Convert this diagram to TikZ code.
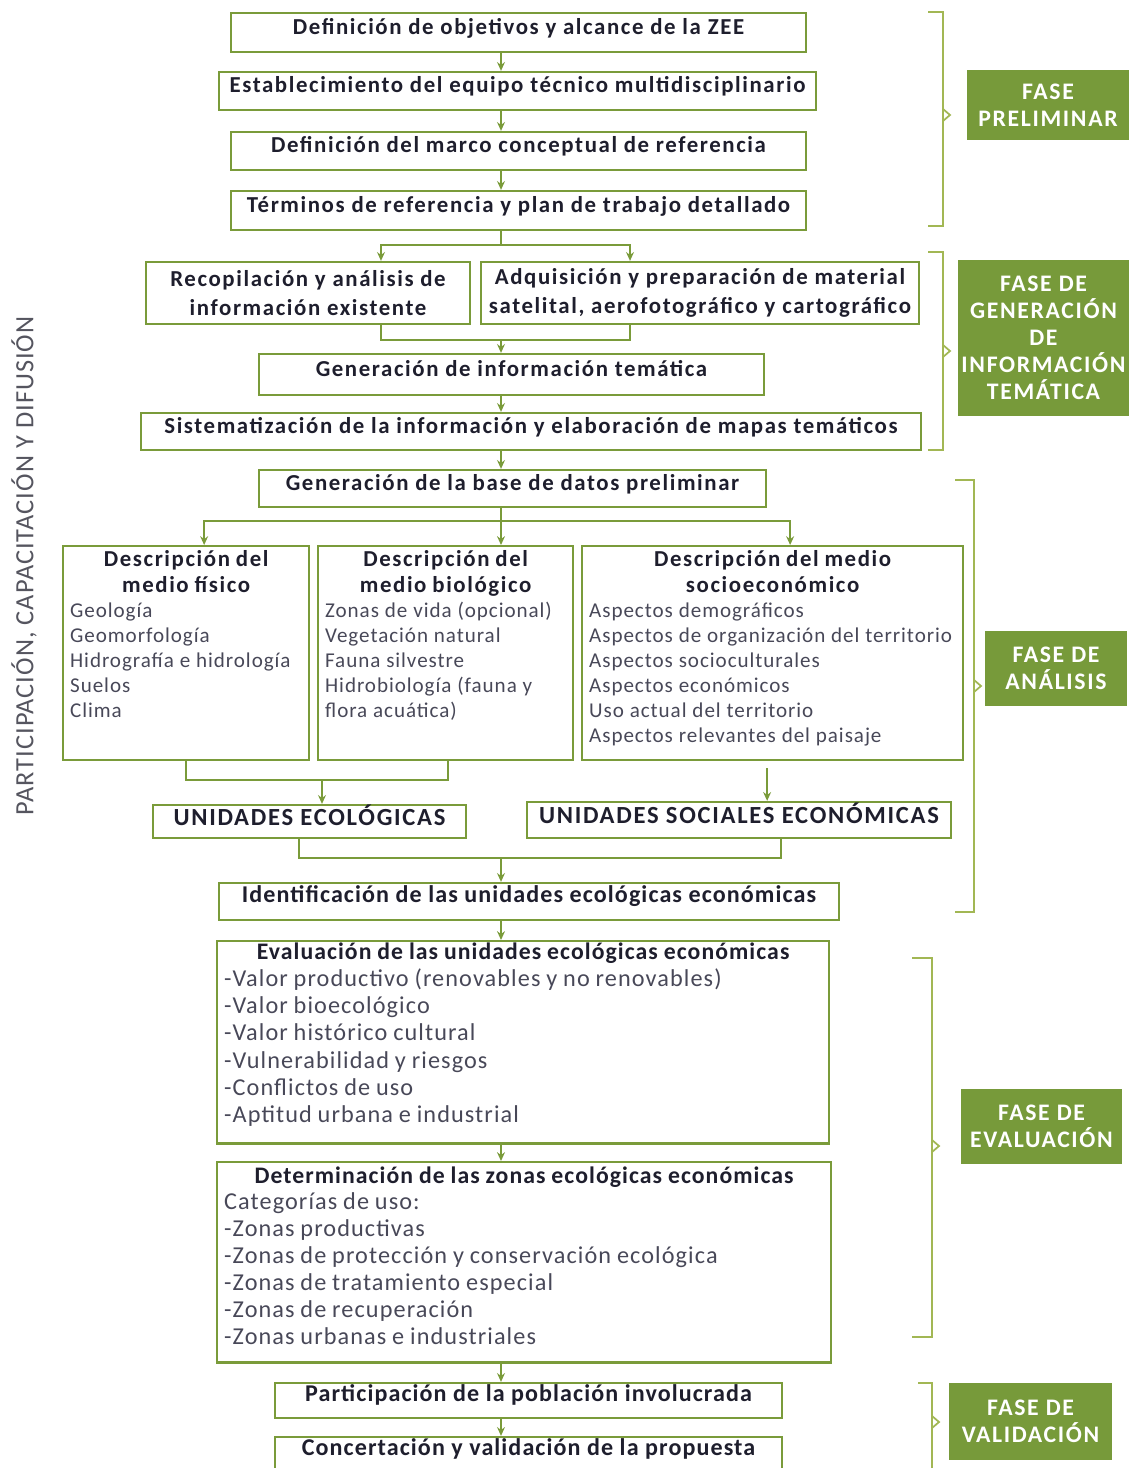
\documentclass[tikz,border=0pt]{standalone}
\usepackage{fontspec}
\setmainfont{Carlito}
\newfontfamily\widefont[LetterSpace=7.0]{Carlito}
\newfontfamily\midfont[LetterSpace=4.5]{Carlito}
\newfontfamily\sidefont[LetterSpace=4.0]{Carlito}
\usetikzlibrary{arrows.meta}

\definecolor{zeegreen}{RGB}{122,155,58}
\definecolor{bracegreen}{RGB}{162,183,84}
\definecolor{phasegreen}{RGB}{119,154,58}
\definecolor{ink}{RGB}{30,30,45}
\definecolor{listgray}{RGB}{72,72,88}
\definecolor{sidegray}{RGB}{85,85,95}

\begin{document}
\begin{tikzpicture}[x=0.02cm,y=-0.02cm,>={Stealth[length=5pt,width=4.5pt]},
    frame/.style={draw=zeegreen,line width=1.3pt,text=ink,inner sep=0pt},
    stepbox/.style={frame,font=\widefont\bfseries\fontsize{13}{15}\selectfont,
      text height=11pt,text depth=9pt},
    pairbox/.style={frame,align=center,font=\widefont\bfseries\fontsize{13}{16.4}\selectfont},
    unitbox/.style={frame,font=\widefont\bfseries\fontsize{14}{16}\selectfont,text height=10pt,text depth=6pt},
    plainbox/.style={frame,font=\midfont\bfseries\fontsize{13.7}{15}\selectfont,text height=10pt,text depth=9pt},
    listbox/.style={frame,anchor=north west,align=left,inner xsep=4pt,inner ysep=2pt,text=listgray},
    phase/.style={fill=phasegreen,text=white,align=center,inner sep=0pt,
      font=\widefont\bfseries\fontsize{13.5}{15.3}\selectfont},
    link/.style={draw=zeegreen,line width=1.1pt},
    brace/.style={draw=bracegreen,line width=1.3pt}]
\useasboundingbox (0,0) rectangle (1129,1468);

% fase preliminar
\node[stepbox,minimum width=11.5cm,minimum height=0.78cm] (objetivos) at (518.5,32.5) {Definición de objetivos y alcance de la ZEE};
\node[stepbox,minimum width=11.94cm,minimum height=0.76cm] (equipo) at (517.5,91) {Establecimiento del equipo técnico multidisciplinario};
\node[stepbox,minimum width=11.5cm,minimum height=0.76cm] (marco) at (518.5,151) {Definición del marco conceptual de referencia};
\node[stepbox,minimum width=11.5cm,minimum height=0.78cm] (terminos) at (518.5,210.5) {Términos de referencia y plan de trabajo detallado};

% fase de generacion
\node[pairbox,minimum width=6.48cm,minimum height=1.24cm] (recop) at (308,293) {Recopilación y análisis de\\información existente};
\node[pairbox,minimum width=8.76cm,minimum height=1.24cm] (adq) at (700,293) {Adquisición y preparación de material\\satelital, aerofotográfico y cartográfico};
\node[stepbox,minimum width=10.1cm,minimum height=0.82cm] (tematica) at (511.5,374.5) {Generación de información temática};
\node[stepbox,minimum width=15.6cm,minimum height=0.74cm] (sistem) at (531,431.5) {Sistematización de la información y elaboración de mapas temáticos};

% fase de analisis
\node[stepbox,minimum width=10.14cm,minimum height=0.74cm] (base) at (512.5,488.5) {Generación de la base de datos preliminar};
\node[listbox,text width=4.64cm,text height=9.3pt,text depth=108.6pt] (fisico) at (62,545) {%
  {\centering\color{ink}\widefont\bfseries\fontsize{13}{15.3}\selectfont Descripción del\\medio físico\par}
  \midfont\fontsize{12}{14.2}\selectfont Geología\\Geomorfología\\Hidrografía e hidrología\\Suelos\\Clima\par};
\node[listbox,text width=4.82cm,text height=9.3pt,text depth=108.6pt] (bio) at (317,545) {%
  {\centering\color{ink}\widefont\bfseries\fontsize{13}{15.3}\selectfont Descripción del\\medio biológico\par}
  \midfont\fontsize{12}{14.2}\selectfont Zonas de vida (opcional)\\Vegetación natural\\Fauna silvestre\\Hidrobiología (fauna y\\flora acuática)\par};
\node[listbox,text width=7.34cm,text height=9.3pt,text depth=108.6pt] (socio) at (581,545) {%
  {\centering\color{ink}\widefont\bfseries\fontsize{13}{15.3}\selectfont Descripción del medio\\socioeconómico\par}
  \midfont\fontsize{12}{14.2}\selectfont Aspectos demográficos\\Aspectos de organización del territorio\\Aspectos socioculturales\\Aspectos económicos\\Uso actual del territorio\\Aspectos relevantes del paisaje\par};
\node[unitbox,minimum width=6.26cm,minimum height=0.66cm] (ecol) at (309.5,821.5) {UNIDADES ECOLÓGICAS};
\node[unitbox,minimum width=8.48cm,minimum height=0.72cm] (soceco) at (739,820) {UNIDADES SOCIALES ECONÓMICAS};
\node[plainbox,minimum width=12.4cm,minimum height=0.74cm] (ident) at (529,901.5) {Identificación de las unidades ecológicas económicas};

% fase de evaluacion
\node[listbox,text width=11.96cm,text height=8.2pt,text depth=102.9pt] (evalua) at (216,940) {%
  {\centering\color{ink}\midfont\bfseries\fontsize{13.5}{15.5}\selectfont Evaluación de las unidades ecológicas económicas\par}
  \midfont\fontsize{13.8}{15.5}\selectfont -Valor productivo (renovables y no renovables)\\-Valor bioecológico\\-Valor histórico cultural\\-Vulnerabilidad y riesgos\\-Conflictos de uso\\-Aptitud urbana e industrial\par};
\node[listbox,text width=12cm,text height=9.9pt,text depth=100.1pt] (zonas) at (216,1161) {%
  {\centering\color{ink}\midfont\bfseries\fontsize{13.5}{15.3}\selectfont Determinación de las zonas ecológicas económicas\par}
  \midfont\fontsize{13.8}{15.3}\selectfont Categorías de uso:\\-Zonas productivas\\-Zonas de protección y conservación ecológica\\-Zonas de tratamiento especial\\-Zonas de recuperación\\-Zonas urbanas e industriales\par};

% fase de validacion
\node[plainbox,minimum width=10.14cm,minimum height=0.7cm] (partic) at (528.5,1400.5) {Participación de la población involucrada};
\node[plainbox,minimum width=10.14cm,minimum height=0.72cm] (concert) at (528.5,1455) {Concertación y validación de la propuesta};

% fases
\node[phase,minimum width=3.24cm,minimum height=1.42cm] (fprelim) at (1048,105) {FASE\\PRELIMINAR};
\node[phase,minimum width=3.42cm,minimum height=3.12cm] (fgen) at (1043.5,338) {FASE DE\\GENERACIÓN\\DE\\INFORMACIÓN\\TEMÁTICA};
\node[phase,minimum width=2.84cm,minimum height=1.5cm] (fanal) at (1056,668.5) {FASE DE\\ANÁLISIS};
\node[phase,minimum width=3.22cm,minimum height=1.5cm] (feval) at (1041.5,1126.5) {FASE DE\\EVALUACIÓN};
\node[phase,minimum width=3.26cm,minimum height=1.54cm] (fvalid) at (1030.5,1421.5) {FASE DE\\VALIDACIÓN};

\node[rotate=90,text=sidegray,font=\sidefont\fontsize{15}{17}\selectfont] (lateral) at (24,566) {PARTICIPACIÓN, CAPACITACIÓN Y DIFUSIÓN};

% conectores
\coordinate (spine) at (501,0);
\coordinate (fork1) at (501,245);
\coordinate (join1) at (501,340);
\coordinate (fork2) at (501,521);
\coordinate (join2) at (322,780);
\coordinate (join3) at (501,858);

\draw[link,->] (objetivos.south -| spine) -- (equipo.north -| spine);
\draw[link,->] (equipo.south -| spine) -- (marco.north -| spine);
\draw[link,->] (marco.south -| spine) -- (terminos.north -| spine);
\draw[link] (terminos.south -| spine) -- (fork1);
\draw[link,->] (fork1) -| ([xshift=1.46cm]recop.north);
\draw[link,->] (fork1) -| ([xshift=-1.4cm]adq.north);
\draw[link] ([xshift=1.46cm]recop.south) |- (join1) -| ([xshift=-1.4cm]adq.south);
\draw[link,->] (join1) -- (tematica.north -| spine);
\draw[link,->] (tematica.south -| spine) -- (sistem.north -| spine);
\draw[link,->] (sistem.south -| spine) -- (base.north -| spine);
\draw[link] (base.south -| spine) -- (fork2);
\draw[link,->] (fork2) -| ([xshift=0.36cm]fisico.north);
\draw[link,->] (fork2) -- (bio.north -| spine);
\draw[link,->] (fork2) -| ([xshift=0.35cm]socio.north);
\draw[link] (fisico.south) |- (join2) -| ([xshift=0.05cm]bio.south);
\draw[link,->] (join2) -- (ecol.north -| join2);
\draw[link,->,shorten <=4pt] ([xshift=-0.11cm]socio.south) -- ([xshift=-0.11cm]socio.south |- soceco.north);
\draw[link] ([xshift=-0.21cm]ecol.south) |- (join3) -| ([xshift=0.84cm]soceco.south);
\draw[link,->] (join3) -- (ident.north -| spine);
\draw[link,->] (ident.south -| spine) -- (evalua.north -| spine);
\draw[link,->] (evalua.south -| spine) -- (zonas.north -| spine);
\draw[link,->] (zonas.south -| spine) -- (partic.north -| spine);
\draw[link,->] (partic.south -| spine) -- (concert.north -| spine);

% llaves de fase
\draw[brace] (928,12) -- (943,12) -- (943,226) -- (928,226);
\draw[brace,line width=1pt] (943,109) -- (950,115) -- (943,121);
\draw[brace] (928,252) -- (943,252) -- (943,450) -- (928,450);
\draw[brace,line width=1pt] (943,345) -- (950,351) -- (943,357);
\draw[brace] (955,480) -- (974,480) -- (974,912) -- (955,912);
\draw[brace,line width=1pt] (974,680) -- (981,686) -- (974,692);
\draw[brace] (912,958) -- (932,958) -- (932,1337) -- (912,1337);
\draw[brace,line width=1pt] (932,1140) -- (939,1146) -- (932,1152);
\draw[brace] (918,1383) -- (932,1383) -- (932,1480);
\draw[brace,line width=1pt] (932,1416) -- (939,1422) -- (932,1428);
\end{tikzpicture}
\end{document}
